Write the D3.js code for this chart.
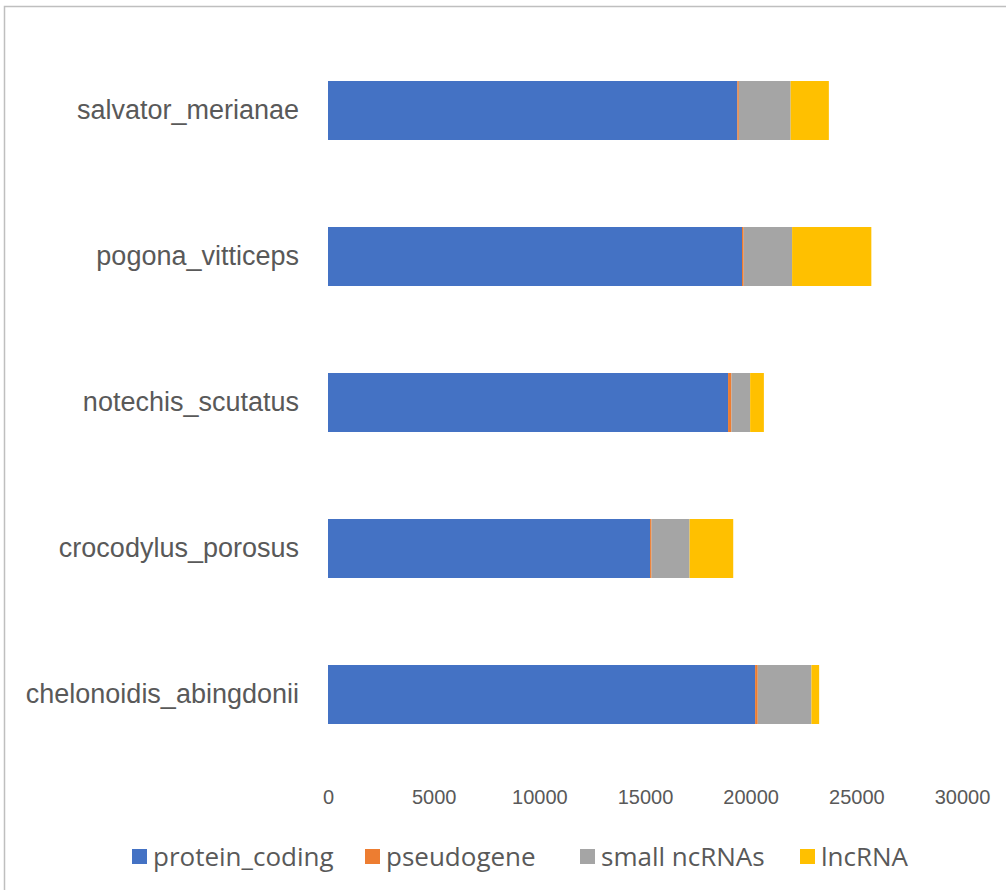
<!DOCTYPE html>
<html>
<head>
<meta charset="utf-8">
<script src="https://cdn.jsdelivr.net/npm/d3@7"></script>
<style>
  body { margin: 0; background: #fff; }
  svg { display: block; }
</style>
</head>
<body>
<div id="chart"></div>
<script>
// species listed bottom to top, as in the source sheet
var species = ["chelonoidis_abingdonii", "crocodylus_porosus", "notechis_scutatus",
               "pogona_vitticeps", "salvator_merianae"];
var seriesNames = ["protein_coding", "pseudogene", "small ncRNAs", "lncRNA"];
var proteinCoding = [20210, 15240, 18930, 19590, 19370];
var pseudogene    = [125, 70, 160, 80, 70];
var smallNcRNAs   = [2540, 1800, 885, 2290, 2450];
var lncRNA        = [365, 2065, 650, 3750, 1810];
var xTicks = [0, 5000, 10000, 15000, 20000, 25000, 30000];
var colors = ["#4472c4", "#ed7d31", "#a5a5a5", "#ffc000"];

const width = 1006;
const height = 890;
const plot = { left: 328, right: 962, top: 37.5, bottom: 767.5 };

var rows = species.map((s, i) => ({
	name: s,
	"protein_coding": proteinCoding[i],
	"pseudogene": pseudogene[i],
	"small ncRNAs": smallNcRNAs[i],
	"lncRNA": lncRNA[i]
}));

var svg = d3.select("#chart").append("svg")
	.attr("width", width)
	.attr("height", height)
	.style("font-family", "'Open Sans', 'Liberation Sans', sans-serif");

// chart frame
svg.append("rect")
	.attr("x", 4.5).attr("y", 6.5)
	.attr("width", width + 10).attr("height", height + 10)
	.attr("fill", "none")
	.attr("stroke", "#bfbfbf")
	.attr("stroke-width", 1.5);

var x = d3.scaleLinear().domain([0, 30000]).range([plot.left, plot.right]);

var y = d3.scaleBand()
	.domain(species.slice().reverse())
	.range([plot.top, plot.bottom])
	.paddingInner(0.596)
	.paddingOuter(0.298);

var stack = d3.stack().keys(seriesNames);
var layers = stack(rows);

svg.append("g")
	.selectAll("g")
	.data(layers)
	.join("g")
	.attr("fill", (d, i) => colors[i])
	.selectAll("rect")
	.data(d => d)
	.join("rect")
	.attr("x", d => x(d[0]))
	.attr("y", d => y(d.data.name))
	.attr("width", d => x(d[1]) - x(d[0]))
	.attr("height", y.bandwidth());

// category labels
var yAxis = svg.append("g")
	.attr("transform", `translate(${plot.left},0)`)
	.call(d3.axisLeft(y).tickSize(0).tickPadding(29));
yAxis.select(".domain").remove();
yAxis.selectAll("text")
	.style("font-size", "27px")
	.attr("fill", "#595959");

// value labels
var xAxis = svg.append("g")
	.attr("transform", `translate(0,${plot.bottom})`)
	.call(d3.axisBottom(x).tickValues(xTicks).tickSize(0).tickPadding(22).tickFormat(d3.format("d")));
xAxis.select(".domain").remove();
xAxis.selectAll("text")
	.style("font-size", "20px")
	.attr("fill", "#595959");

// legend
var legendX = [132, 365, 580, 800];
var legend = svg.append("g")
	.selectAll("g")
	.data(seriesNames)
	.join("g")
	.attr("transform", (d, i) => `translate(${legendX[i]},849)`);

legend.append("rect")
	.attr("width", 15)
	.attr("height", 15)
	.attr("fill", (d, i) => colors[i]);

legend.append("text")
	.attr("x", 21)
	.attr("y", 7.5)
	.attr("dy", "0.35em")
	.style("font-size", "26px")
	.attr("fill", "#595959")
	.text(d => d);
</script>
</body>
</html>
